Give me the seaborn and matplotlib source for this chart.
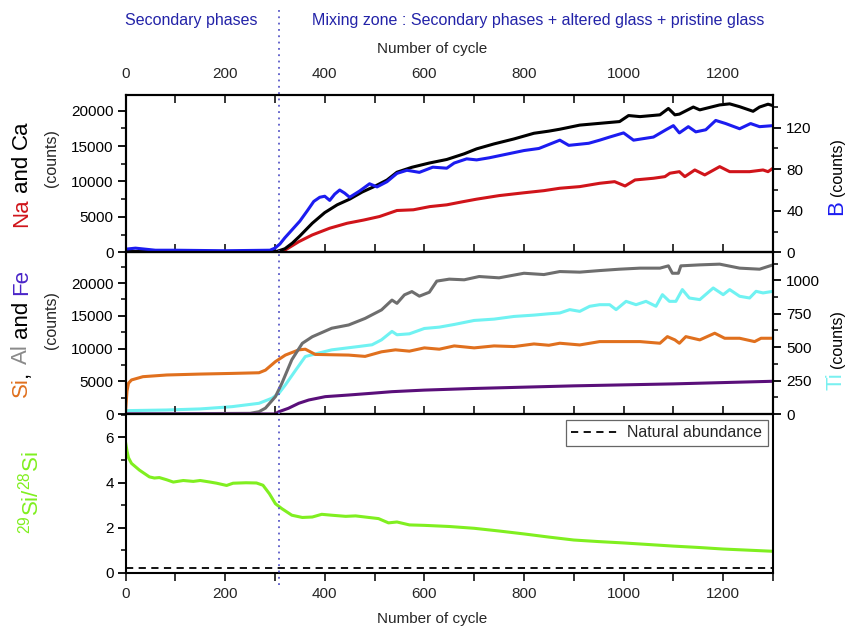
import numpy as np
import pandas as pd
import matplotlib
matplotlib.use("Agg")
import matplotlib.pyplot as plt
import seaborn as sns
from matplotlib.ticker import MultipleLocator
from matplotlib.lines import Line2D

# ---------------- data ----------------
ca_x = [0, 100, 200, 290, 305, 320, 335, 350, 375, 400, 425, 450, 475, 500, 525, 545, 575, 610, 645, 680, 705,
        740, 780, 820, 850, 872, 912, 952, 992, 1010, 1033, 1073, 1090, 1103, 1112, 1140, 1153, 1193, 1213, 1233,
        1260, 1273, 1290, 1300]
ca_y = [100, 100, 100, 100, 150, 500, 1300, 2300, 4100, 5600, 6700, 7500, 8500, 9300, 10200, 11300, 12000, 12600,
        13100, 13900, 14600, 15300, 16000, 16800, 17100, 17370, 17950, 18200, 18450, 19300, 19150, 19400, 20300,
        19400, 19500, 20500, 20100, 20800, 20950, 20550, 19900, 20500, 20900, 20700]

b_x = [0, 20, 60, 100, 200, 290, 300, 310, 320, 335, 350, 365, 378, 390, 400, 410, 420, 430, 440, 450, 470, 490,
       505, 525, 545, 565, 590, 617, 645, 660, 685, 705, 730, 760, 800, 830, 872, 890, 930, 952, 972, 1000, 1020,
       1060, 1085, 1100, 1112, 1130, 1145, 1165, 1185, 1205, 1233, 1255, 1273, 1300]
b_y = [3, 4, 2, 2, 1.5, 2, 4, 8, 14, 22, 30, 40, 49, 53, 54, 50, 56, 60, 57, 53, 59, 66, 63, 68, 76, 79, 77, 82,
       81, 86, 90, 89, 91, 94, 98, 100, 108, 103, 105, 108, 111, 115, 108, 111, 118, 122, 115, 121, 116, 118, 127,
       124, 119, 124, 121, 122]

na_x = [0, 295, 300, 320, 348, 375, 410, 445, 478, 510, 545, 578, 611, 645, 678, 705, 750, 800, 840, 872, 912, 952,
        982, 1003, 1023, 1060, 1083, 1093, 1112, 1123, 1143, 1163, 1193, 1213, 1253, 1280, 1290, 1300]
na_y = [0, 0, 50, 300, 1500, 2450, 3400, 4100, 4550, 5050, 5900, 6000, 6450, 6700, 7150, 7500, 8000, 8400, 8700,
        9040, 9270, 9740, 9970, 9360, 10210, 10450, 10680, 11160, 11380, 10680, 11620, 10920, 12090, 11380, 11380,
        11620, 11380, 11860]

si_x = [0, 3, 6, 12, 35, 83, 150, 214, 268, 281, 301, 321, 348, 361, 381, 414, 448, 481, 514, 542, 570, 600, 630,
        660, 700, 740, 780, 820, 850, 872, 912, 952, 1033, 1073, 1088, 1103, 1112, 1125, 1153, 1183, 1203, 1233,
        1263, 1276, 1300]
si_y = [300, 3500, 4700, 5200, 5700, 5960, 6100, 6200, 6300, 6700, 8000, 9000, 9800, 9900, 9100, 9050, 9000, 8800,
        9500, 9800, 9600, 10100, 9900, 10400, 10100, 10400, 10300, 10700, 10500, 10810, 10550, 11060, 11060, 10810,
        11820, 11320, 10810, 11820, 11320, 12340, 11570, 11570, 11060, 11570, 11570]

al_x = [0, 250, 268, 281, 301, 314, 334, 355, 375, 414, 448, 481, 514, 535, 545, 560, 575, 590, 610, 625, 650, 680,
        710, 750, 800, 840, 872, 912, 952, 992, 1033, 1073, 1090, 1098, 1110, 1115, 1153, 1193, 1233, 1273, 1300]
al_y = [0, 100, 350, 900, 2650, 4700, 8300, 10800, 11800, 13100, 13600, 14600, 15900, 17400, 16900, 18200, 18700,
        18000, 18600, 20300, 20600, 20500, 21000, 20800, 21500, 21300, 21760, 21670, 21910, 22120, 22280, 22280,
        22630, 21500, 21500, 22630, 22780, 22890, 22280, 22120, 22780]

ti_x = [0, 83, 150, 214, 268, 294, 308, 321, 342, 361, 388, 414, 442, 468, 495, 514, 535, 545, 570, 600, 630, 660,
        700, 740, 780, 820, 850, 872, 892, 912, 932, 952, 972, 985, 1005, 1025, 1045, 1065, 1078, 1092, 1105, 1118,
        1132, 1153, 1180, 1200, 1213, 1233, 1253, 1266, 1280, 1300]
ti_y = [25, 30, 38, 55, 80, 118, 155, 218, 330, 430, 456, 480, 493, 505, 518, 555, 618, 593, 600, 640, 650, 670,
        700, 710, 730, 740, 750, 756, 781, 768, 806, 818, 818, 781, 843, 818, 843, 806, 893, 843, 843, 931, 868,
        856, 943, 893, 931, 881, 868, 918, 906, 918]

fe_x = [0, 300, 308, 327, 348, 368, 401, 448, 495, 535, 600, 700, 800, 900, 1000, 1100, 1200, 1300]
fe_y = [0, 0, 350, 870, 1640, 2140, 2650, 2900, 3170, 3410, 3650, 3900, 4100, 4300, 4450, 4600, 4800, 5000]

ratio_x = [0, 3, 6, 12, 28, 48, 58, 68, 83, 96, 116, 136, 150, 170, 183, 203, 216, 242, 263, 276, 289, 301, 314,
           334, 355, 375, 394, 414, 442, 462, 481, 508, 528, 545, 570, 600, 650, 700, 750, 800, 850, 900, 950, 1000,
           1050, 1100, 1150, 1200, 1250, 1300]
ratio_y = [5.8, 5.4, 5.1, 4.85, 4.55, 4.25, 4.2, 4.22, 4.12, 4.02, 4.09, 4.05, 4.09, 4.02, 3.97, 3.87, 3.97, 3.99,
           3.98, 3.88, 3.5, 3.06, 2.84, 2.55, 2.45, 2.47, 2.59, 2.55, 2.50, 2.52, 2.47, 2.40, 2.21, 2.25, 2.12, 2.10,
           2.05, 1.97, 1.85, 1.72, 1.58, 1.45, 1.38, 1.32, 1.25, 1.18, 1.12, 1.05, 1.0, 0.95]

natural_abundance = 0.2
boundary_cycle = 308
x_ticks = [0, 200, 400, 600, 800, 1000, 1200]

# ---------------- style ----------------
sns.set_theme(style="ticks")
plt.rcParams["font.family"] = ["Liberation Sans", "DejaVu Sans"]
plt.rcParams["mathtext.fontset"] = "custom"
plt.rcParams["mathtext.rm"] = "Liberation Sans"
plt.rcParams["mathtext.it"] = "Liberation Sans:italic"
plt.rcParams["axes.facecolor"] = "white"

W, H = 851, 628
fig = plt.figure(figsize=(W / 100, H / 100), dpi=100)
L = 125.5 / W
AW = (773 - 125.5) / W


def ax_rect(top, bottom):
    return [L, 1 - bottom / H, AW, (bottom - top) / H]


ax1 = fig.add_axes(ax_rect(95, 252.3))
ax2 = fig.add_axes(ax_rect(252.3, 414))
ax3 = fig.add_axes(ax_rect(414, 572.7))
ax1r = ax1.twinx()
ax2r = ax2.twinx()

C_NA = "#d0141a"
C_CA = "#000000"
C_B = "#1c1cf0"
C_SI = "#e0701e"
C_AL = "#6e6e6e"
C_FE = "#5a0f7a"
C_TI = "#70f2f2"
C_R = "#80ef20"
LW = 2.2

sns.lineplot(x=na_x, y=na_y, ax=ax1, color=C_NA, linewidth=LW, estimator=None)
sns.lineplot(x=ca_x, y=ca_y, ax=ax1, color=C_CA, linewidth=LW, estimator=None)
sns.lineplot(x=b_x, y=b_y, ax=ax1r, color=C_B, linewidth=LW, estimator=None)

sns.lineplot(x=ti_x, y=ti_y, ax=ax2r, color=C_TI, linewidth=LW, estimator=None)
sns.lineplot(x=si_x, y=si_y, ax=ax2, color=C_SI, linewidth=LW, estimator=None)
sns.lineplot(x=al_x, y=al_y, ax=ax2, color=C_AL, linewidth=LW, estimator=None)
sns.lineplot(x=fe_x, y=fe_y, ax=ax2, color=C_FE, linewidth=LW, estimator=None)
ax2.set_zorder(ax2r.get_zorder() + 1)
ax2.patch.set_visible(False)

sns.lineplot(x=ratio_x, y=ratio_y, ax=ax3, color=C_R, linewidth=LW, estimator=None)
ax3.axhline(natural_abundance, color="black", linestyle=(0, (4, 3)), linewidth=1.3)

# limits
for a in (ax1, ax2, ax3):
    a.set_xlim(0, 1300)
ax1.set_ylim(0, 22200)
ax1r.set_ylim(0, 151.5)
ax2.set_ylim(0, 24700)
ax2r.set_ylim(0, 1210)
ax3.set_ylim(0, 7.04)

# ticks
for a in (ax1, ax2, ax3):
    a.xaxis.set_major_locator(MultipleLocator(200))
    a.xaxis.set_minor_locator(MultipleLocator(100))
ax1.yaxis.set_major_locator(MultipleLocator(5000))
ax1.yaxis.set_minor_locator(MultipleLocator(2500))
ax2.yaxis.set_major_locator(MultipleLocator(5000))
ax2.yaxis.set_minor_locator(MultipleLocator(2500))
ax1r.yaxis.set_major_locator(MultipleLocator(40))
ax1r.yaxis.set_minor_locator(MultipleLocator(20))
ax2r.yaxis.set_major_locator(MultipleLocator(250))
ax2r.yaxis.set_minor_locator(MultipleLocator(125))
ax3.yaxis.set_major_locator(MultipleLocator(2))
ax3.yaxis.set_minor_locator(MultipleLocator(1))

FS = 11
for a in (ax1, ax2, ax3, ax1r, ax2r):
    for s in a.spines.values():
        s.set_linewidth(1.5)
        s.set_color("black")
    a.set_ylabel("")
    a.set_xlabel("")

for a in (ax1, ax2, ax3):
    a.tick_params(axis="y", which="major", direction="out", length=6, width=1.3, labelsize=FS, pad=2.5,
                  left=True, right=False, colors="black")
    a.tick_params(axis="y", which="minor", direction="out", length=3.5, width=1.3, left=True, right=False)
for a in (ax1r, ax2r):
    a.tick_params(axis="y", which="major", direction="out", length=6, width=1.3, labelsize=FS, pad=3.5,
                  right=True, left=False, colors="black")
    a.tick_params(axis="y", which="minor", direction="out", length=3.5, width=1.3, right=True, left=False)

ax1.tick_params(axis="x", which="both", direction="in", length=6, width=1.3, top=True, bottom=True,
                labeltop=True, labelbottom=False, labelsize=FS, pad=10)
ax2.tick_params(axis="x", which="both", direction="in", length=6, width=1.3, top=False, bottom=True,
                labeltop=False, labelbottom=False)
ax3.tick_params(axis="x", which="both", direction="out", length=6, width=1.3, top=False, bottom=True,
                labelbottom=True, labelsize=FS, pad=4)
ax1.set_xticks(x_ticks)
ax3.set_xticks(x_ticks)

ax1.xaxis.set_label_position("top")
ax1.set_xlabel("Number of cycle", fontsize=FS, labelpad=10)
ax3.set_xlabel("Number of cycle", fontsize=FS, labelpad=8)
ax1.xaxis.label.set_x((432 - 125.5) / 647.5)
ax3.xaxis.label.set_x((432 - 125.5) / 647.5)

# legend
leg_handle = Line2D([], [], color="black", linestyle=(0, (4, 3)), linewidth=1.3)
leg = ax3.legend([leg_handle], ["Natural abundance"], loc="upper right", bbox_to_anchor=(0.992, 0.965),
                 fontsize=FS + 0.5, frameon=True, fancybox=False, framealpha=1, edgecolor="#666666",
                 handlelength=3.0, borderpad=0.35, handletextpad=0.5, borderaxespad=0)
leg.get_frame().set_linewidth(0.9)

# vertical boundary line
LINE_C = "#5a5ac8"
h1 = (252.3 - 95)
ax1.axvline(boundary_cycle, ymin=0, ymax=1 + (95 - 10) / h1, color=LINE_C, linestyle=(0, (1, 2.5)),
            linewidth=1.3, clip_on=False, zorder=5)
ax2.axvline(boundary_cycle, color=LINE_C, linestyle=(0, (1, 2.5)), linewidth=1.3, zorder=5)
ax3.axvline(boundary_cycle, ymin=-(585 - 572.7) / 158.7, ymax=1, color=LINE_C, linestyle=(0, (1, 2.5)),
            linewidth=1.3, clip_on=False, zorder=5)

# header texts
HC = "#2323a8"
fig.text(125 / W, 1 - 20 / H, "Secondary phases", color=HC, fontsize=11.5, ha="left", va="center")
fig.text(312 / W, 1 - 20 / H, "Mixing zone : Secondary phases + altered glass + pristine glass", color=HC,
         fontsize=11.5, ha="left", va="center")

# multi-colour rotated axis labels
fig.canvas.draw()
renderer = fig.canvas.get_renderer()


def rot_pieces(x_px, y_ref_start, pieces):
    y = H - y_ref_start
    for s, c, fs, gap in pieces:
        y += gap * fs * 100 / 72
        t = fig.text(x_px / W, y / H, s, color=c, fontsize=fs, rotation=90, rotation_mode="anchor",
                     ha="left", va="baseline")
        bb = t.get_window_extent(renderer)
        y = bb.y1


BIG = 16
SP = 0.28
rot_pieces(27, 227, [("Na", C_NA, BIG, 0), ("and", "black", BIG, SP), ("Ca", "black", BIG, SP)])
rot_pieces(27, 397, [("Si", C_SI, BIG, 0), (",", "black", BIG, 0.02), ("Al", "#8a8a8a", BIG, SP),
                     ("and", "black", BIG, SP), ("Fe", "#4a25c8", BIG, SP)])
rot_pieces(842, 215, [("B", C_B, BIG, 0), ("(counts)", "black", 11.5, SP)])
rot_pieces(842, 390, [("Ti", "#78f0f0", BIG, 0), ("(counts)", "black", 11.5, SP)])

fig.text(51 / W, 1 - 158 / H, "(counts)", fontsize=11.5, rotation=90, ha="center", va="center")
fig.text(51 / W, 1 - 320 / H, "(counts)", fontsize=11.5, rotation=90, ha="center", va="center")
fig.text(31 / W, 1 - 493 / H, r"$^{29}$Si/$^{28}$Si", color=C_R, fontsize=BIG, rotation=90, ha="center",
         va="center")

fig.savefig("out.png", dpi=100)
